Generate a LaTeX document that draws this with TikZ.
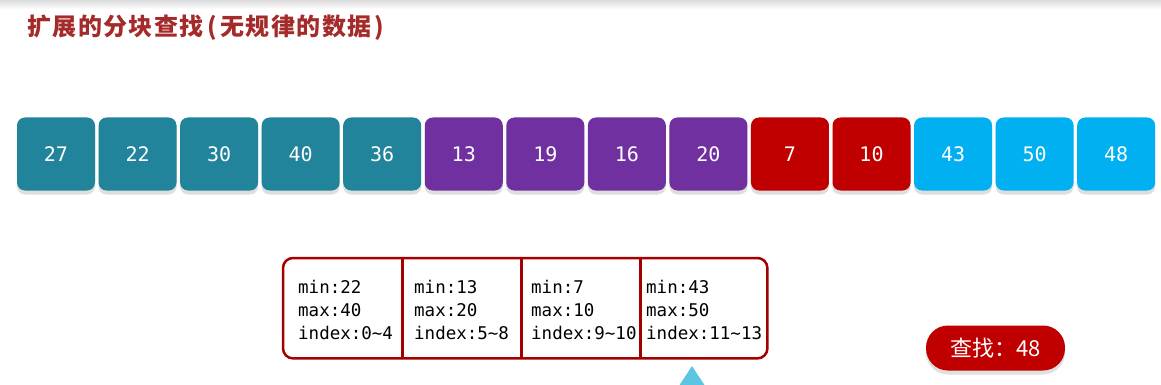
\documentclass[tikz,border=0pt]{standalone}
\usepackage{fontspec}
\setmonofont{DejaVu Sans Mono}
\newfontfamily\cjk{Noto Sans CJK SC}
\newfontfamily\cjkwide[LetterSpace=6.0]{Noto Sans CJK SC}
\usetikzlibrary{calc}
\definecolor{teal1}{HTML}{21849B}
\definecolor{purp1}{HTML}{7030A0}
\definecolor{red1}{HTML}{C00000}
\definecolor{blue1}{HTML}{00B0F0}
\definecolor{titlered}{HTML}{A52A2A}
\definecolor{tblred}{HTML}{A50000}
\definecolor{tri}{HTML}{5BC5E3}
\tikzset{
  numbox/.style={rounded corners=8pt, minimum width=78pt, minimum height=73pt, inner sep=0pt,
    text=white, font=\ttfamily\fontsize{20}{20}\selectfont,
    preaction={fill=black!13, transform canvas={yshift=-4pt}}},
  cell/.style={minimum width=#1, minimum height=100pt, inner sep=0pt, anchor=north west},
  celltext/.style={anchor=west, align=left, inner sep=0pt, font=\ttfamily\fontsize{17.5}{23}\selectfont},
  divider/.style={draw=tblred, line width=2.5pt},
}
\begin{document}
\begin{tikzpicture}[x=1pt,y=-1pt]
\useasboundingbox (0,0) rectangle (1161,385);
\fill[white] (0,0) rectangle (1161,385);
\shade[top color=black!14, bottom color=white] (0,0) rectangle (1161,9);
% title
\node[anchor=west, inner sep=0pt, text=titlered, font=\cjkwide\bfseries\fontsize{24}{24}\selectfont] (title) at (27,28) {扩展的分块查找\hspace{4pt}(\hspace{3pt}无规律的数据\hspace{3pt})};
% number boxes
\foreach \v/\c [count=\i from 0] in {27/teal1,22/teal1,30/teal1,40/teal1,36/teal1,13/purp1,19/purp1,16/purp1,20/purp1,7/red1,10/red1,43/blue1,50/blue1,48/blue1}{
  \node[numbox, fill=\c] (b\i) at ({56+81.55*\i},154) {\v};
}
% table
\node[cell=119pt] (c1) at (283,258) {};
\node[cell=119pt] (c2) at (402,258) {};
\node[cell=119pt] (c3) at (521,258) {};
\node[cell=127pt] (c4) at (640,258) {};
\draw[tblred, line width=2.5pt, rounded corners=10pt] (c1.north west) rectangle (c4.south east);
\draw[divider] (c1.north east) -- (c1.south east);
\draw[divider] (c2.north east) -- (c2.south east);
\draw[divider] (c3.north east) -- (c3.south east);
\node[celltext] (t1) at (298,310) {min:22\\max:40\\index:0\textasciitilde4};
\node[celltext] (t2) at (414,310) {min:13\\max:20\\index:5\textasciitilde8};
\node[celltext] (t3) at (531,310) {min:7\\max:10\\index:9\textasciitilde10};
\node[celltext] (t4) at (646,310) {min:43\\max:50\\index:11\textasciitilde13};
% search pill
\node[fill=red1, rounded corners=22pt, minimum width=139pt, minimum height=45pt, inner sep=0pt,
  text=white, font=\cjk\fontsize{22}{22}\selectfont,
  preaction={fill=black!12, transform canvas={yshift=-4pt}}] (pill) at (995.5,348) {查找：48};
% pointer triangle
\begin{scope}
\clip (0,0) rectangle (1161,385);
\fill[tri] (692,366) -- (709,392) -- (675,392) -- cycle;
\end{scope}
\end{tikzpicture}
\end{document}
